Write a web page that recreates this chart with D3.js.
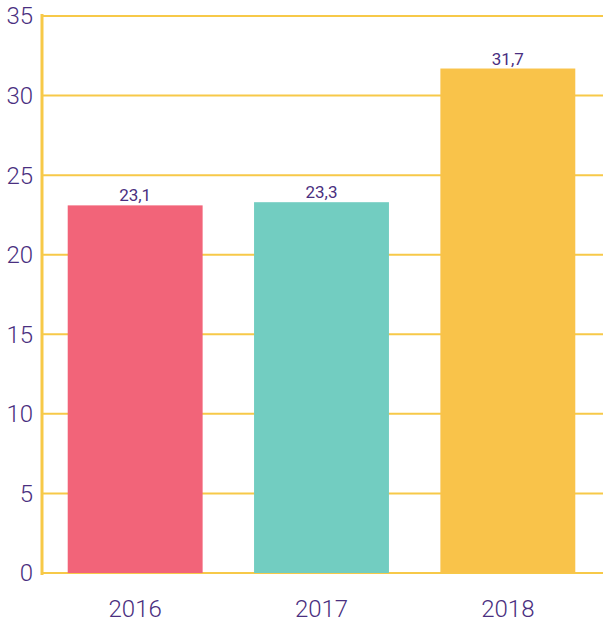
<!DOCTYPE html><html><head><meta charset="utf-8"><script src="https://cdn.jsdelivr.net/npm/d3@7"></script>
<style>body{margin:0;background:#fff}</style></head><body><svg id="c" width="603" height="627"></svg>
<script>
const categories=["2016","2017","2018"];
const values=[23.1,23.3,31.7];
const labels=["23,1","23,3","31,7"];
const colors=["#f26479","#72cdc1","#f9c34a"];
const yTicks=[0,5,10,15,20,25,30,35];
const svg=d3.select("#c");
const x=d3.scaleBand().domain(categories).range([42,601]).paddingInner(0.276).paddingOuter(0.138);
const y=d3.scaleLinear().domain([0,35]).range([573,16]);
const purple="#4a2f80",grid="#f7c948";
svg.selectAll("line.g").data(yTicks).join("line").attr("x1",42).attr("x2",603)
 .attr("y1",d=>y(d)).attr("y2",d=>y(d)).attr("stroke",grid).attr("stroke-width",2);
svg.selectAll("rect").data(values).join("rect").attr("x",(d,i)=>x(categories[i])).attr("width",x.bandwidth())
 .attr("y",d=>y(d)).attr("height",d=>y(0)-y(d)).attr("fill",(d,i)=>colors[i]);
svg.append("line").attr("x1",42).attr("x2",42).attr("y1",14).attr("y2",575).attr("stroke",grid).attr("stroke-width",3);
svg.selectAll("text.t").data(yTicks).join("text").attr("x",33).attr("y",d=>y(d)).attr("dy","0.35em")
 .attr("text-anchor","end").attr("font-family","Roboto").attr("font-weight",300).attr("font-size",24).attr("fill",purple).text(d=>d);
svg.selectAll("text.c").data(categories).join("text").attr("x",d=>x(d)+x.bandwidth()/2).attr("y",617)
 .attr("text-anchor","middle").attr("font-family","Roboto").attr("font-weight",300).attr("font-size",24).attr("fill",purple).text(d=>d);
svg.selectAll("text.v").data(values).join("text").attr("x",(d,i)=>x(categories[i])+x.bandwidth()/2).attr("y",d=>y(d)-4)
 .attr("text-anchor","middle").attr("font-family","Roboto").attr("font-size",17).attr("fill",purple).text((d,i)=>labels[i]);
</script></body></html>
